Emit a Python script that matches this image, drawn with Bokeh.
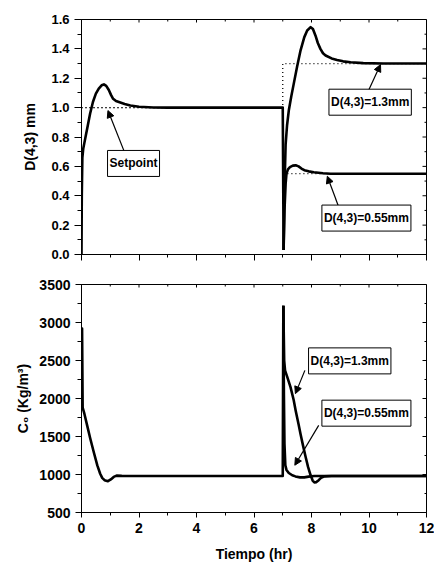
import math
from bokeh.plotting import figure
from bokeh.layouts import column
from bokeh.models import (Range1d, SingleIntervalTicker, NumeralTickFormatter,
                          Label, Arrow, NormalHead)
from bokeh.embed import file_html
from bokeh.resources import INLINE

FONT = "Liberation Sans"

# ---------------- data ----------------
# Top panel: D(4,3) [mm] vs time [hr]
t_d_main = [0.00, 0.01, 0.03, 0.06, 0.10, 0.15, 0.20, 0.30, 0.40, 0.50, 0.60, 0.70, 0.78,
            0.86, 0.95, 1.03, 1.10, 1.20, 1.35, 1.50, 1.70, 2.00, 2.50, 3.00, 7.00, 7.03]
d_main = [0.00, 0.40, 0.66, 0.72, 0.76, 0.81, 0.86, 0.96, 1.04, 1.095, 1.13, 1.152, 1.158,
          1.148, 1.12, 1.085, 1.06, 1.045, 1.035, 1.025, 1.015, 1.006, 1.001, 1.0, 1.0, 0.03]

t_d_13 = [7.03, 7.06, 7.10, 7.15, 7.21, 7.30, 7.38, 7.50, 7.62, 7.75, 7.85, 7.97, 8.05, 8.14,
          8.22, 8.31, 8.40, 8.49, 8.70, 8.89, 9.10, 9.36, 9.80, 10.5, 12.0]
d_13 = [0.03, 0.45, 0.75, 0.88, 0.98, 1.08, 1.16, 1.28, 1.39, 1.48, 1.525, 1.548, 1.535, 1.49,
        1.44, 1.40, 1.37, 1.355, 1.335, 1.325, 1.315, 1.309, 1.303, 1.30, 1.30]

t_d_055 = [7.03, 7.06, 7.10, 7.13, 7.18, 7.25, 7.35, 7.45, 7.55, 7.65, 7.75, 7.90, 8.08, 8.40, 8.66, 12.0]
d_055 = [0.03, 0.30, 0.48, 0.55, 0.58, 0.595, 0.605, 0.607, 0.60, 0.585, 0.574, 0.566, 0.56, 0.553, 0.55, 0.55]

t_sp = [0.0, 7.0, 7.0, 12.0]
sp_13 = [1.0, 1.0, 1.3, 1.3]
sp_055 = [1.0, 1.0, 0.55, 0.55]

# Bottom panel: C0 [Kg/m3] vs time [hr]
t_c_main = [0.00, 0.02, 0.04, 0.10, 0.20, 0.30, 0.43, 0.55, 0.65, 0.72, 0.80, 0.92, 1.02, 1.12,
            1.22, 1.40, 2.00, 7.00, 7.02]
c_main = [2920, 2920, 1880, 1800, 1640, 1480, 1290, 1120, 1010, 955, 925, 912, 935, 968,
          985, 982, 980, 980, 3220]

t_c_13 = [7.02, 7.05, 7.08, 7.15, 7.27, 7.38, 7.45, 7.55, 7.62, 7.70, 7.79, 7.88, 7.97, 8.04,
          8.10, 8.17, 8.25, 8.33, 8.45, 8.70, 12.0]
c_13 = [3220, 2500, 2370, 2290, 2150, 1980, 1840, 1660, 1530, 1390, 1240, 1100, 990, 920,
        895, 900, 925, 955, 975, 980, 980]

t_c_055 = [7.02, 7.04, 7.06, 7.09, 7.13, 7.21, 7.33, 7.44, 7.60, 7.75, 7.90, 8.10, 12.0]
c_055 = [3220, 2060, 1400, 1120, 1060, 1020, 990, 975, 962, 962, 972, 980, 980]

# tick positions (major / minor)
x_major = [0, 2, 4, 6, 8, 10, 12]
x_minor = [1, 3, 5, 7, 9, 11]
d_major = [0.0, 0.2, 0.4, 0.6, 0.8, 1.0, 1.2, 1.4, 1.6]
d_minor = [0.1, 0.3, 0.5, 0.7, 0.9, 1.1, 1.3, 1.5]
c_major = [500, 1000, 1500, 2000, 2500, 3000, 3500]
c_minor = [750, 1250, 1750, 2250, 2750, 3250]

label_setpoint = "Setpoint"
label_13 = "D(4,3)=1.3mm"
label_055 = "D(4,3)=0.55mm"

# annotation anchors (data units): label centre, arrow tail -> head
ann_top = [
    (label_setpoint, (1.81, 0.62), (1.54, 0.675), (0.92, 0.98)),
    (label_13, (10.04, 1.037), (9.94, 1.098), (10.40, 1.293)),
    (label_055, (9.91, 0.248), (8.95, 0.322), (8.55, 0.533)),
]
ann_bot = [
    (label_13, (9.33, 2495), (7.77, 2370), (7.44, 2064)),
    (label_055, (9.91, 1807), (8.25, 1647), (7.42, 1122)),
]

# ---------------- styling helpers ----------------
LW = 2.6


def style_axis(ax, font_size, tick_out=6, minor_out=4):
    ax.axis_line_color = "black"
    ax.axis_line_width = 1
    ax.major_tick_line_color = "black"
    ax.minor_tick_line_color = "black"
    ax.major_tick_out = tick_out
    ax.major_tick_in = 0
    ax.minor_tick_out = minor_out
    ax.minor_tick_in = 0
    ax.major_label_text_font = FONT
    ax.major_label_text_font_style = "bold"
    ax.major_label_text_font_size = font_size
    ax.major_label_text_color = "black"
    ax.axis_label_text_font = FONT
    ax.axis_label_text_font_style = "bold"
    ax.axis_label_text_font_size = "14px"
    ax.axis_label_text_color = "black"


def mirror_ticks(p, xr, yr):
    # inward ticks on the top and right edges (clipped to the frame)
    xmax, ymax = xr[1], yr[1]
    p.scatter([xmax] * len(yr[2]), yr[2], marker="dash", size=8, line_color="black", line_width=1)
    p.scatter([xmax] * len(yr[3]), yr[3], marker="dash", size=4, line_color="black", line_width=1)
    p.scatter(xr[2], [ymax] * len(xr[2]), marker="dash", size=6, angle=math.pi / 2,
              line_color="black", line_width=1)
    p.scatter(xr[3], [ymax] * len(xr[3]), marker="dash", size=4, angle=math.pi / 2,
              line_color="black", line_width=1)


def make_fig(ylo, yhi, fh, btop, bbot):
    p = figure(output_backend="svg", toolbar_location=None,
               frame_width=345, frame_height=fh,
               min_border_left=81, min_border_right=8,
               min_border_top=btop, min_border_bottom=bbot,
               x_range=Range1d(0, 12), y_range=Range1d(ylo, yhi))
    p.xgrid.visible = False
    p.ygrid.visible = False
    p.outline_line_color = "black"
    p.background_fill_color = "white"
    p.border_fill_color = "white"
    return p


def add_annotations(p, anns):
    for text, (lx, ly), (tx, ty), (hx, hy) in anns:
        p.add_layout(Arrow(end=NormalHead(size=7, fill_color="black", line_color="black", line_width=1),
                           x_start=tx, y_start=ty, x_end=hx, y_end=hy,
                           line_color="black", line_width=1.2))
        p.add_layout(Label(x=lx, y=ly, text=text, text_align="center", text_baseline="middle",
                           text_font=FONT, text_font_style="bold", text_font_size="12px",
                           text_color="black", border_line_color="black", border_line_width=1,
                           background_fill_color="white", padding=(2, 6)))


# ---------------- top panel ----------------
p1 = make_fig(0, 1.6, 235, 19, 20)
p1.xaxis.ticker = SingleIntervalTicker(interval=2, num_minor_ticks=2)
p1.yaxis.ticker = SingleIntervalTicker(interval=0.2, num_minor_ticks=2)
style_axis(p1.yaxis[0], "13px", 7, 4)
style_axis(p1.xaxis[0], "13px", 6, 3)
p1.xaxis.major_label_overrides = {v: "" for v in x_major}
p1.xaxis.major_label_standoff = 0
p1.yaxis.formatter = NumeralTickFormatter(format="0.0")
p1.yaxis.axis_label = "D(4,3) mm"
p1.yaxis.axis_label_standoff = 10
p1.yaxis.major_label_standoff = 5
mirror_ticks(p1, (0, 12, x_major, x_minor), (0, 1.6, d_major, d_minor))

p1.line(t_sp, sp_13, line_color="black", line_width=1.3, line_dash="1 3")
p1.line(t_sp, sp_055, line_color="black", line_width=1.3, line_dash="1 3")
p1.line(t_d_main, d_main, line_color="black", line_width=LW, line_join="round")
p1.line(t_d_13, d_13, line_color="black", line_width=LW, line_join="round")
p1.line(t_d_055, d_055, line_color="black", line_width=LW, line_join="round")
add_annotations(p1, ann_top)

# ---------------- bottom panel ----------------
p2 = make_fig(500, 3500, 228, 10, 50)
p2.xaxis.ticker = SingleIntervalTicker(interval=2, num_minor_ticks=2)
p2.yaxis.ticker = SingleIntervalTicker(interval=500, num_minor_ticks=2)
style_axis(p2.yaxis[0], "14px", 6, 4)
style_axis(p2.xaxis[0], "14px", 5, 3)
p2.yaxis.formatter = NumeralTickFormatter(format="0")
p2.yaxis.axis_label = "C\u2080 (Kg/m\u00b3)"
p2.yaxis.axis_label_standoff = 5
p2.yaxis.major_label_standoff = 5
p2.xaxis.axis_label = "Tiempo (hr)"
p2.xaxis.axis_label_standoff = 10
p2.xaxis.major_label_standoff = 5
mirror_ticks(p2, (0, 12, x_major, x_minor), (500, 3500, c_major, c_minor))

p2.line(t_c_main, c_main, line_color="black", line_width=LW, line_join="round")
p2.line(t_c_13, c_13, line_color="black", line_width=LW, line_join="round")
p2.line(t_c_055, c_055, line_color="black", line_width=LW, line_join="round")
add_annotations(p2, ann_bot)

layout = column(p1, p2)
open("out.html", "w").write(file_html(layout, INLINE))
